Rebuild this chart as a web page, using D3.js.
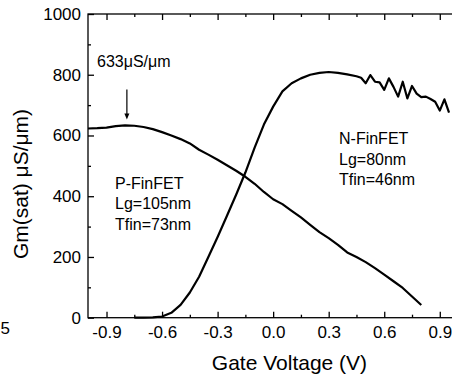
<!DOCTYPE html>
<html>
<head>
<meta charset="utf-8">
<script src="https://cdn.jsdelivr.net/npm/d3@7"></script>
<style>
  body { margin: 0; background: #fff; }
  svg text { font-family: Arial, "Liberation Sans", sans-serif; fill: #000; }
</style>
</head>
<body>
<svg id="chart" width="452" height="379"></svg>
<script>
// P-FinFET (Lg=105nm, Tfin=73nm)
const pVg = [-1.0,-0.95,-0.9,-0.85,-0.8,-0.75,-0.7,-0.65,-0.6,-0.55,-0.5,-0.45,-0.4,-0.35,-0.3,-0.25,-0.2,-0.15,-0.1,-0.05,
             0.0,0.05,0.1,0.15,0.2,0.25,0.3,0.35,0.4,0.45,0.5,0.55,0.6,0.65,0.7,0.75,0.8];
const pGm = [623,624,626,631,633,632,628,621,611,600,588,574,553,537,520,502,484,464,441,414,
             390,374,352,330,306,282,262,240,215,200,183,163,142,120,98,70,42];

// N-FinFET (Lg=80nm, Tfin=46nm)
const nVg = [-0.75,-0.7,-0.65,-0.6,-0.55,-0.5,-0.45,-0.4,-0.35,-0.3,-0.25,-0.2,-0.15,-0.1,-0.05,
             0.0,0.05,0.1,0.15,0.2,0.25,0.3,0.35,0.4,0.45,0.475,0.5,0.525,0.55,0.575,0.6,0.625,0.65,0.675,
             0.7,0.725,0.75,0.775,0.8,0.825,0.85,0.875,0.9,0.925,0.95];
const nGm = [0,0,1,4,16,42,83,135,200,266,335,405,478,560,636,
             695,745,772,788,800,806,809,806,801,795,790,772,799,777,775,750,788,760,728,
             777,722,763,738,726,728,720,711,682,719,675];

const xMajor = [-0.9,-0.6,-0.3,0.0,0.3,0.6,0.9];
const xMinor = [-0.75,-0.45,-0.15,0.15,0.45,0.75];
const yMajor = [0,200,400,600,800,1000];
const yMinor = [100,300,500,700,900];

const peakVg = -0.79, peakGm = 633;
const peakLabel = "633\u03BCS/\u03BCm";
const pLabel = ["P-FinFET","Lg=105nm","Tfin=73nm"];
const nLabel = ["N-FinFET","Lg=80nm","Tfin=46nm"];

const svg = d3.select("#chart");
const L = 88, R = 458.3, T = 14, B = 317.7;

const x = d3.scaleLinear().domain([-1.0, 1.0]).range([L, R]);
const y = d3.scaleLinear().domain([0, 1000]).range([B, T]);

// frame
svg.append("rect").attr("x", L).attr("y", T).attr("width", R - L).attr("height", B - T)
  .attr("fill", "none").attr("stroke", "#000").attr("stroke-width", 1.3);

function styleAxis(g) {
  g.select(".domain").remove();
  g.selectAll("line").attr("stroke", "#000").attr("stroke-width", 1.3);
  g.selectAll("text").attr("font-size", 17);
}

const fmtX = d => d === 0 ? "0.0" : d3.format(".1f")(d).replace("\u2212", "-");

svg.append("g").attr("transform", `translate(0,${B})`)
  .call(d3.axisBottom(x).tickValues(xMajor).tickSize(-6).tickPadding(8.5).tickFormat(fmtX))
  .call(styleAxis);
svg.append("g").attr("transform", `translate(0,${B})`)
  .call(d3.axisBottom(x).tickValues(xMinor).tickSize(-3).tickFormat(""))
  .call(styleAxis);
svg.append("g").attr("transform", `translate(0,${T})`)
  .call(d3.axisTop(x).tickValues(xMajor).tickSize(-6).tickFormat(""))
  .call(styleAxis);
svg.append("g").attr("transform", `translate(0,${T})`)
  .call(d3.axisTop(x).tickValues(xMinor).tickSize(-3).tickFormat(""))
  .call(styleAxis);

svg.append("g").attr("transform", `translate(${L},0)`)
  .call(d3.axisLeft(y).tickValues(yMajor).tickSize(-6).tickPadding(7).tickFormat(d3.format("d")))
  .call(styleAxis);
svg.append("g").attr("transform", `translate(${L},0)`)
  .call(d3.axisLeft(y).tickValues(yMinor).tickSize(-3).tickFormat(""))
  .call(styleAxis);
svg.append("g").attr("transform", `translate(${R},0)`)
  .call(d3.axisRight(y).tickValues(yMajor).tickSize(-6).tickFormat(""))
  .call(styleAxis);

// curves
const line = d3.line().x(d => x(d[0])).y(d => y(d[1]));
svg.append("path").datum(d3.zip(pVg, pGm)).attr("d", line)
  .attr("fill", "none").attr("stroke", "#000").attr("stroke-width", 2.2).attr("stroke-linejoin", "round");
svg.append("path").datum(d3.zip(nVg, nGm)).attr("d", line)
  .attr("fill", "none").attr("stroke", "#000").attr("stroke-width", 2.2).attr("stroke-linejoin", "round");

// peak annotation
const ax = x(peakVg), ayTip = y(peakGm) - 6;
svg.append("line").attr("x1", ax).attr("x2", ax).attr("y1", ayTip - 30).attr("y2", ayTip - 4)
  .attr("stroke", "#000").attr("stroke-width", 1.2);
svg.append("path").attr("d", `M${ax - 2.5},${ayTip - 6}L${ax + 2.5},${ayTip - 6}L${ax},${ayTip}Z`)
  .attr("fill", "#000");
svg.append("text").attr("x", 97).attr("y", 67).attr("font-size", 16).text(peakLabel);

// device labels
svg.append("text").attr("font-size", 16).selectAll("tspan").data(pLabel).join("tspan")
  .attr("x", 115).attr("y", (d, i) => 188.5 + i * 20.5).text(d => d);
svg.append("text").attr("font-size", 16).selectAll("tspan").data(nLabel).join("tspan")
  .attr("x", 339).attr("y", (d, i) => 144 + i * 20.5).text(d => d);

// axis titles
svg.append("text").attr("x", 289.5).attr("y", 370).attr("text-anchor", "middle")
  .attr("font-size", 21).text("Gate Voltage (V)");
svg.append("text").attr("transform", "translate(28,184) rotate(-90)").attr("text-anchor", "middle")
  .attr("font-size", 21).text("Gm(sat) \u03BCS/\u03BCm)");

// fragment of neighbouring panel label
svg.append("text").attr("x", 0.5).attr("y", 334)
  .attr("font-size", 17).text("5");
</script>
</body>
</html>
